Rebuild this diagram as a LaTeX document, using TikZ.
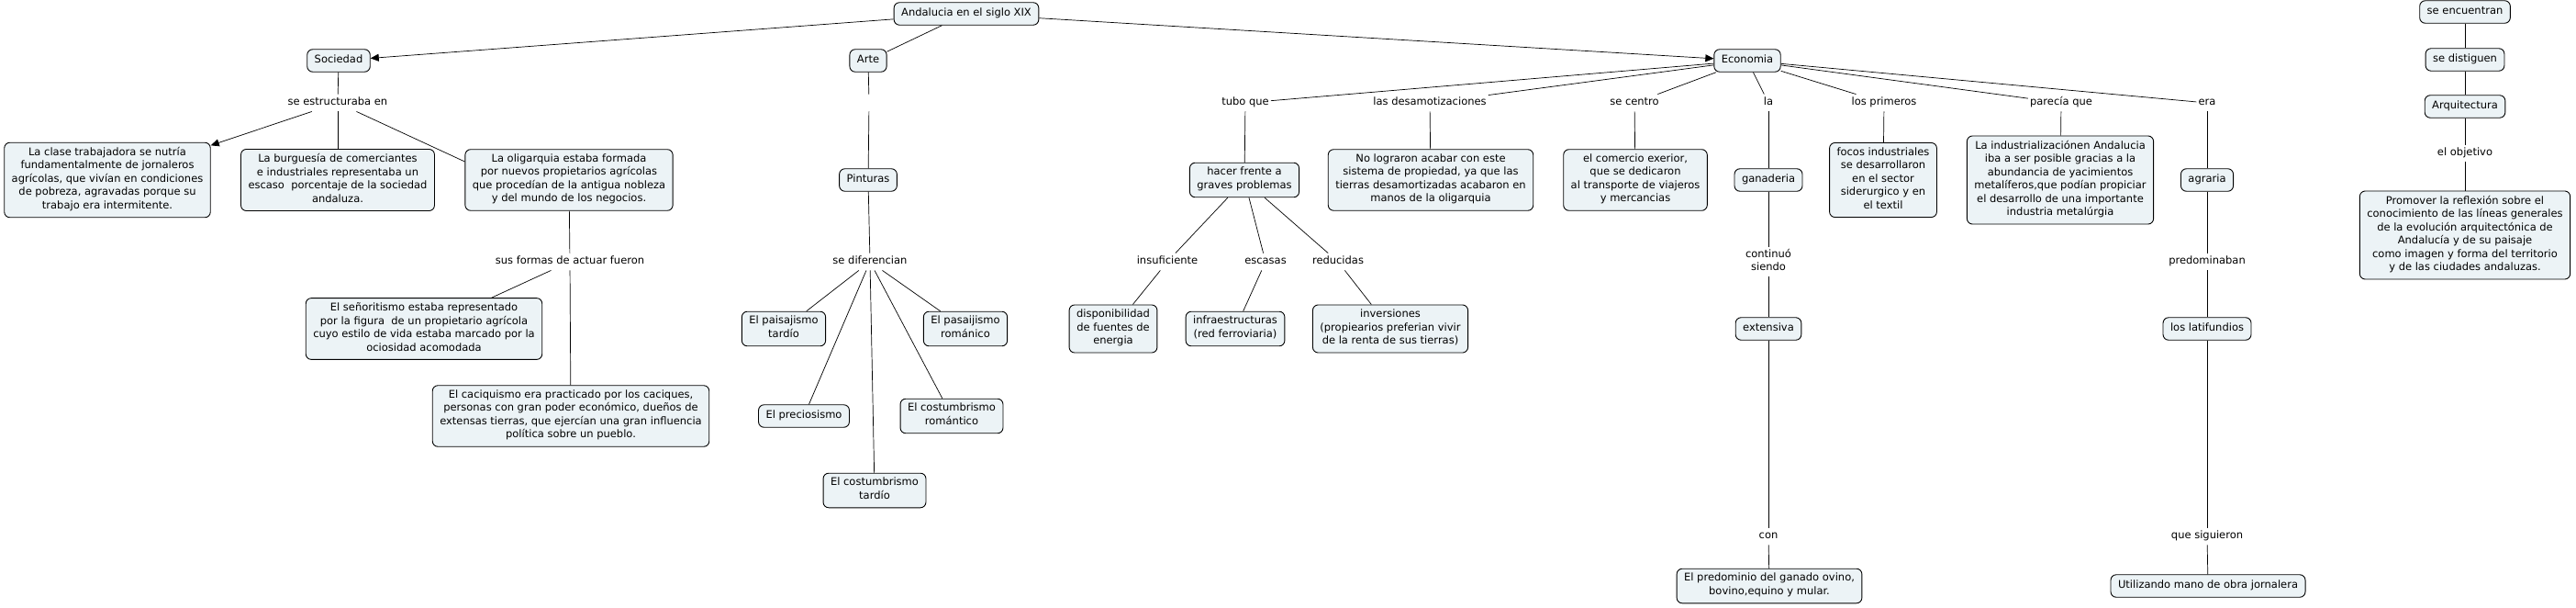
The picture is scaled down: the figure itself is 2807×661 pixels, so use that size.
\documentclass[tikz,border=0pt]{standalone}
\usepackage{fontspec}
\setmainfont{DejaVu Sans}
\usetikzlibrary{arrows.meta}
\definecolor{conceptfill}{RGB}{236,243,246}

\begin{document}
\begin{tikzpicture}[x=1pt, y=-1pt,
    every node/.style={font=\fontsize{11.5}{14.5}\selectfont, align=center,
        execute at begin node=\strut, execute at end node=\strut},
    concept/.style={draw, rounded corners=6pt, fill=conceptfill, line width=0.9pt, inner xsep=8pt, inner ysep=5pt},
    linkphrase/.style={inner sep=2pt},
    link/.style={line width=0.7pt},
    tip/.style={link, -{Triangle[length=9pt,width=8pt]}}]
    \useasboundingbox (0,0) rectangle (2807,661);

    \node[concept] (anda) at (1053,15) {Andalucia en el siglo XIX};
    \node[concept] (soc) at (369,66) {Sociedad};
    \node[concept] (arte) at (946,66) {Arte};
    \node[concept] (eco) at (1904,66) {Economia};

    \node[linkphrase] (estr) at (368,112) {se estructuraba en};
    \node[concept] (clase) at (117,196) {La clase trabajadora se nutría\\fundamentalmente de jornaleros\\agrícolas, que vivían en condiciones\\de pobreza, agravadas porque su\\trabajo era intermitente.};
    \node[concept] (burg) at (368,196) {La burguesía de comerciantes\\e industriales representaba un\\escaso\ \ porcentaje de la sociedad\\andaluza.};
    \node[concept] (olig) at (620,196) {La oligarquia estaba formada\\por nuevos propietarios agrícolas\\que procedían de la antigua nobleza\\y del mundo de los negocios.};
    \node[linkphrase] (formas) at (621,285) {sus formas de actuar fueron};
    \node[concept] (senor) at (462,358) {El señoritismo estaba representado\\por la figura\ \ de un propietario agrícola\\cuyo estilo de vida estaba marcado por la\\ociosidad acomodada};
    \node[concept] (caci) at (622,453) {El caciquismo era practicado por los caciques,\\personas con gran poder económico, dueños de\\extensas tierras, que ejercían una gran influencia\\política sobre un pueblo.};

    \node[linkphrase] (artelink) at (947,112) {};
    \node[concept] (pint) at (946,196) {Pinturas};
    \node[linkphrase] (dif) at (948,285) {se diferencian};
    \node[concept] (paistar) at (854,358) {El paisajismo\\tardío};
    \node[concept] (paisrom) at (1052,358) {El pasaijismo\\románico};
    \node[concept] (prec) at (876,453) {El preciosismo};
    \node[concept] (costrom) at (1037,453) {El costumbrismo\\romántico};
    \node[concept] (costtar) at (953,534) {El costumbrismo\\tardío};

    \node[linkphrase] (tubo) at (1357,112) {tubo que};
    \node[linkphrase] (desam) at (1558,112) {las desamotizaciones};
    \node[linkphrase] (centro) at (1781,112) {se centro};
    \node[linkphrase] (la) at (1927,112) {la};
    \node[linkphrase] (prim) at (2053,112) {los primeros};
    \node[linkphrase] (parecia) at (2246,112) {parecía que};
    \node[linkphrase] (era) at (2405,112) {era};

    \node[concept] (frente) at (1356,196) {hacer frente a\\graves problemas};
    \node[concept] (nolog) at (1559,196) {No lograron acabar con este\\sistema de propiedad, ya que las\\tierras desamortizadas acabaron en\\manos de la oligarquia};
    \node[linkphrase] (insuf) at (1272,285) {insuficiente};
    \node[linkphrase] (escasas) at (1379,285) {escasas};
    \node[linkphrase] (reduc) at (1458,285) {reducidas};
    \node[concept] (energia) at (1213,358) {disponibilidad\\de fuentes de\\energia};
    \node[concept] (infra) at (1346,358) {infraestructuras\\(red ferroviaria)};
    \node[concept] (inver) at (1515,358) {inversiones\\(propiearios preferian vivir\\de la renta de sus tierras)};

    \node[concept] (comercio) at (1782,196) {el comercio exerior,\\que se dedicaron\\al transporte de viajeros\\y mercancias};
    \node[concept] (ganad) at (1927,196) {ganaderia};
    \node[concept] (focos) at (2052,196) {focos industriales\\se desarrollaron\\en el sector\\siderurgico y en\\el textil};
    \node[concept] (indus) at (2245,196) {La industrializaciónen Andalucia\\iba a ser posible gracias a la\\abundancia de yacimientos\\metalíferos,que podían propiciar\\el desarrollo de una importante\\industria metalúrgia};
    \node[concept] (agraria) at (2405,196) {agraria};
    \node[linkphrase] (siendo) at (1927,285) {continuó\\siendo};
    \node[linkphrase] (predom) at (2405,285) {predominaban};
    \node[concept] (extens) at (1927,358) {extensiva};
    \node[concept] (latif) at (2405,358) {los latifundios};
    \node[linkphrase] (con) at (1927,584) {con};
    \node[linkphrase] (sig) at (2405,584) {que siguieron};
    \node[concept] (ganado) at (1928,638) {El predominio del ganado ovino,\\bovino,equino y mular.};
    \node[concept] (mano) at (2406,638) {Utilizando mano de obra jornalera};

    \node[concept] (encuen) at (2686,13) {se encuentran};
    \node[concept] (distig) at (2686,65) {se distiguen};
    \node[concept] (arq) at (2686,116) {Arquitectura};
    \node[linkphrase] (objet) at (2686,167) {el objetivo};
    \node[concept] (promo) at (2686,256) {Promover la reflexión sobre el\\conocimiento de las líneas generales\\de la evolución arquitectónica de\\Andalucía y de su paisaje\\como imagen y forma del territorio\\y de las ciudades andaluzas.};

    \draw[tip] (anda) -- (soc);
    \draw[tip] (anda) -- (eco);
    \draw[link] (anda) -- (arte);
    \draw[link] (arte) -- (artelink);
    \draw[link] (artelink) -- (pint);

    \draw[link] (soc) -- (estr);
    \draw[tip] (estr) -- (clase);
    \draw[link] (estr) -- (burg);
    \draw[link] (estr) -- (olig.170);
    \draw[link] (olig) -- (formas);
    \draw[link] (formas) -- (senor);
    \draw[link] (formas) -- (caci);

    \draw[link] (pint) -- (dif);
    \draw[link] (dif) -- (paistar);
    \draw[link] (dif) -- (paisrom);
    \draw[link] (dif) -- (prec);
    \draw[link] (dif) -- (costrom);
    \draw[link] (dif) -- (costtar);

    \draw[link] (eco) -- (tubo);
    \draw[link] (eco) -- (desam);
    \draw[link] (eco) -- (centro);
    \draw[link] (eco) -- (la);
    \draw[link] (eco) -- (prim);
    \draw[link] (eco) -- (parecia);
    \draw[link] (eco) -- (era);

    \draw[link] (tubo) -- (frente);
    \draw[link] (desam) -- (nolog);
    \draw[link] (frente) -- (insuf);
    \draw[link] (frente) -- (escasas);
    \draw[link] (frente) -- (reduc);
    \draw[link] (insuf) -- (energia);
    \draw[link] (escasas) -- (infra);
    \draw[link] (reduc) -- (inver);

    \draw[link] (centro) -- (comercio);
    \draw[link] (la) -- (ganad);
    \draw[link] (ganad) -- (siendo);
    \draw[link] (siendo) -- (extens);
    \draw[link] (extens) -- (con);
    \draw[link] (con) -- (ganado);
    \draw[link] (prim) -- (focos);
    \draw[link] (parecia) -- (indus);
    \draw[link] (era) -- (agraria);
    \draw[link] (agraria) -- (predom);
    \draw[link] (predom) -- (latif);
    \draw[link] (latif) -- (sig);
    \draw[link] (sig) -- (mano);

    \draw[link] (encuen) -- (distig);
    \draw[link] (distig) -- (arq);
    \draw[link] (arq) -- (objet);
    \draw[link] (objet) -- (promo);
\end{tikzpicture}
\end{document}
